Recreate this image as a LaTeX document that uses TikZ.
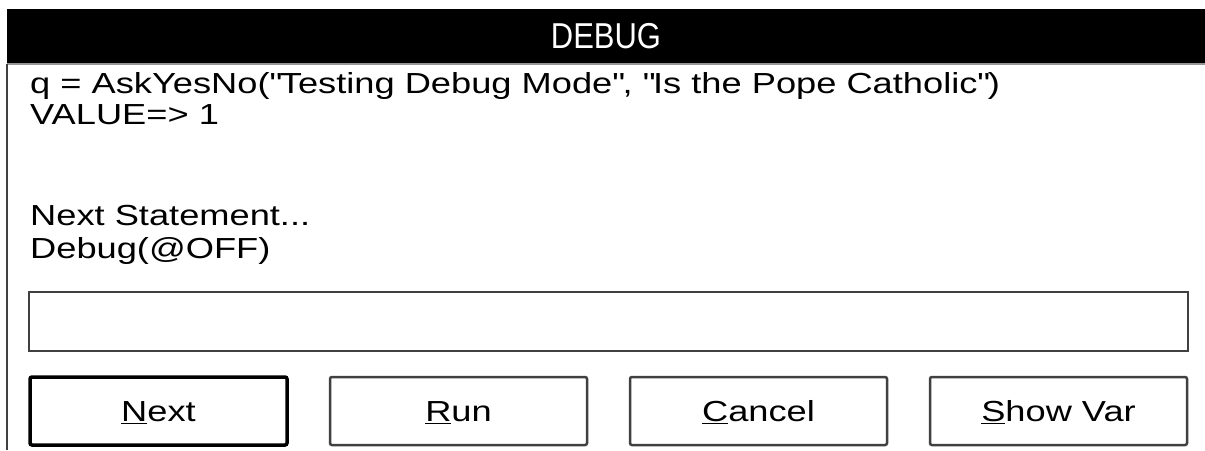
\documentclass[tikz,border=0pt]{standalone}
\usepackage{fontspec}
\setmainfont{Liberation Sans}[FakeStretch=1.25]
\newfontfamily\titlefont{Liberation Sans}[FakeStretch=0.86]
\usetikzlibrary{positioning}
\definecolor{framegray}{RGB}{64,64,64}
\definecolor{rulegray}{RGB}{150,150,150}

\begin{document}
\begin{tikzpicture}[x=1pt,y=-1pt]
\tikzstyle{line text}=[anchor=base west,inner sep=0,font=\fontsize{29}{34}\selectfont]
\tikzstyle{title bar}=[fill=black,text=white,minimum width=1198pt,minimum height=55pt,inner sep=0,outer sep=0,font=\titlefont\fontsize{36}{40}\selectfont]
\tikzstyle{input box}=[draw=framegray,line width=2pt,minimum width=1159pt,minimum height=59pt,outer sep=0]
\tikzset{
  push button/.style = {draw=framegray,line width=2.5pt,rounded corners=2pt,minimum width=257pt,minimum height=68pt,
                        outer sep=0pt,inner sep=0pt,text height=21pt,text depth=0pt,font=\fontsize{29}{34}\selectfont},
  default button/.style = {push button,draw=black,line width=3.5pt}
}

    \useasboundingbox (0,0) rectangle (1205,450);
    \node[title bar]   (title)  at (606,36.5)  {DEBUG};
    \draw[rulegray,line width=1.5pt] (title.south west) -- (title.south east);
    \draw[framegray,line width=2pt] (title.south west) -- (7,450);
    %%%%%%%%%%%%%%%%%%%%%%%%%%%%%%%%%%%
    \node[line text]   (call)   at (30,93)  {q = AskYesNo(\textquotedbl Testing Debug Mode\textquotedbl, \textquotedbl Is the Pope Catholic\textquotedbl)};
    \node[line text]   (value)  at (30,124) {VALUE=> 1};
    \node[line text]   (nexts)  at (30,225) {Next Statement...};
    \node[line text]   (stmt)   at (30,258) {Debug(@OFF)};
    %%%%%%%%%%%%%%%%%%%%%%%%%%%%%%%%%%%
    \node[input box]   (entry)  at (608.5,321.5) {};
    \node[default button] (next)   at (158.5,411) {\underline{N}ext};
    \node[push button]    (run)    [right=43pt of next]   {\underline{R}un};
    \node[push button]    (cancel) [right=43pt of run]    {\underline{C}ancel};
    \node[push button]    (showvar)[right=43pt of cancel] {\underline{S}how Var};
\end{tikzpicture}
\end{document}
